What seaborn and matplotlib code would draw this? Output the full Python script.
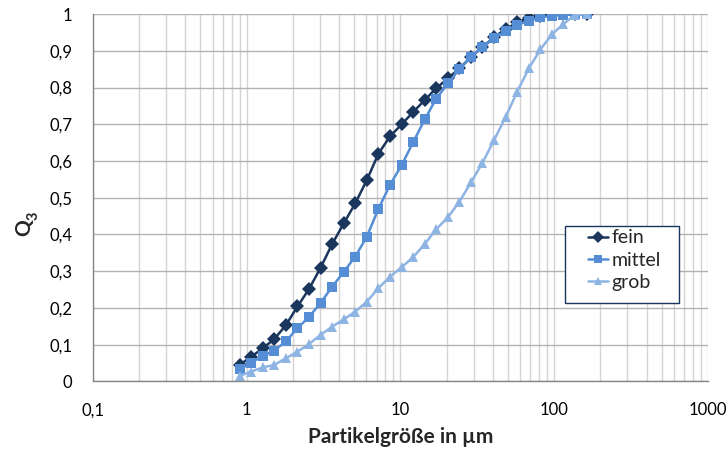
import numpy as np
import pandas as pd
import matplotlib
matplotlib.use("Agg")
import matplotlib.pyplot as plt
import matplotlib.ticker as mticker
from matplotlib.patches import Rectangle
import seaborn as sns

# ---- data ----
sizes = [0.9, 1.07, 1.27, 1.51, 1.8, 2.14, 2.55, 3.03, 3.6, 4.28, 5.09, 6.05,
         7.2, 8.56, 10.2, 12.1, 14.4, 17.1, 20.4, 24.2, 28.8, 34.2, 40.7, 48.4,
         57.6, 68.5, 81.5, 96.9, 115, 137, 163]
fein = [0.045, 0.067, 0.09, 0.115, 0.153, 0.204, 0.252, 0.31, 0.374, 0.43, 0.485,
        0.548, 0.62, 0.667, 0.70, 0.733, 0.766, 0.798, 0.825, 0.852, 0.883, 0.91,
        0.937, 0.959, 0.977, 0.99, 0.996, 0.999, 1.0, 1.0, 1.0]
mittel = [0.033, 0.051, 0.069, 0.084, 0.109, 0.145, 0.176, 0.214, 0.258, 0.298,
          0.34, 0.394, 0.47, 0.535, 0.589, 0.651, 0.713, 0.77, 0.811, 0.85, 0.883,
          0.91, 0.934, 0.954, 0.97, 0.982, 0.991, 0.995, 0.998, 1.0, 1.0]
grob = [0.015, 0.027, 0.038, 0.045, 0.063, 0.081, 0.102, 0.127, 0.149, 0.169,
        0.19, 0.217, 0.254, 0.285, 0.311, 0.338, 0.374, 0.414, 0.447, 0.489,
        0.542, 0.595, 0.657, 0.72, 0.789, 0.852, 0.904, 0.945, 0.973, 0.998, 1.0]
series_names = ["fein", "mittel", "grob"]
x_ticks = [0.1, 1, 10, 100, 1000]
x_ticklabels = ["0,1", "1", "10", "100", "1000"]
y_ticks = [0, 0.1, 0.2, 0.3, 0.4, 0.5, 0.6, 0.7, 0.8, 0.9, 1.0]
y_ticklabels = ["0", "0,1", "0,2", "0,3", "0,4", "0,5", "0,6", "0,7", "0,8", "0,9", "1"]

df = pd.concat([
    pd.DataFrame({"x": sizes, "y": fein, "Serie": "fein"}),
    pd.DataFrame({"x": sizes, "y": mittel, "Serie": "mittel"}),
    pd.DataFrame({"x": sizes, "y": grob, "Serie": "grob"}),
], ignore_index=True)

sns.set_style("white")
plt.rcParams["font.family"] = ["Lato", "DejaVu Sans"]

colors = {"fein": "#1B365D", "mittel": "#558ED5", "grob": "#8EB4E3"}
markers = {"fein": "D", "mittel": "s", "grob": "^"}

fig = plt.figure(figsize=(7.26, 4.53), dpi=100)
ax = fig.add_axes([0.128, 0.158, 0.847, 0.811])

sns.lineplot(data=df, x="x", y="y", hue="Serie", style="Serie",
             hue_order=series_names, style_order=series_names,
             palette=colors, markers=markers, dashes=False, sort=False,
             linewidth=1.8, markersize=7, markeredgewidth=0, ax=ax)

ax.set_xscale("log")
ax.set_xlim(0.1, 1000)
ax.set_ylim(0, 1)
ax.xaxis.set_major_locator(mticker.FixedLocator(x_ticks))
ax.xaxis.set_major_formatter(mticker.FixedFormatter(x_ticklabels))
ax.xaxis.set_minor_locator(mticker.LogLocator(base=10, subs=np.arange(2, 10)))
ax.xaxis.set_minor_formatter(mticker.NullFormatter())
ax.yaxis.set_major_locator(mticker.FixedLocator(y_ticks))
ax.yaxis.set_major_formatter(mticker.FixedFormatter(y_ticklabels))

ax.grid(True, which="major", axis="y", color="#B3B3B3", linewidth=1.0)
ax.grid(True, which="both", axis="x", color="#D4D4D4", linewidth=1.0)
ax.set_axisbelow(True)

for s in ["top", "right"]:
    ax.spines[s].set_visible(False)
for s in ["left", "bottom"]:
    ax.spines[s].set_color("#868686")
    ax.spines[s].set_linewidth(1.0)

ax.tick_params(axis="both", which="major", direction="out", length=5,
               color="#868686", labelsize=12, labelcolor="#000000")
ax.tick_params(axis="y", which="major", pad=10)
ax.tick_params(axis="x", which="minor", length=0)
ax.tick_params(axis="x", which="major", pad=10)

ax.set_xlabel("Partikelgröße in µm", fontsize=15, fontweight="bold", labelpad=6)
ax.set_ylabel("")
# y label "Q" with subscript "3" (both bold, rotated)
ax.text(-0.112, 0.418, "Q", rotation=90, fontsize=15, fontweight="bold",
        ha="center", va="center", transform=ax.transAxes, clip_on=False)
ax.text(-0.097, 0.452, "3", rotation=90, fontsize=10.5, fontweight="bold",
        ha="center", va="center", transform=ax.transAxes, clip_on=False)

# legend: frame drawn separately to mimic the wide padding of the original
ax.add_patch(Rectangle((0.7675, 0.2136), 0.1855, 0.2094, transform=ax.transAxes,
                       facecolor="white", edgecolor="#1B365D", linewidth=1.0,
                       zorder=5))
handles, labels = ax.get_legend_handles_labels()
leg = ax.legend(handles, labels, loc="upper left", bbox_to_anchor=(0.805, 0.414),
                frameon=False, fontsize=14, handlelength=1.05, handletextpad=0.15,
                borderpad=0, labelspacing=0.28, borderaxespad=0)
leg.set_zorder(6)
for h in leg.legend_handles:
    h.set_markersize(6)

fig.savefig("out.png", dpi=100)
